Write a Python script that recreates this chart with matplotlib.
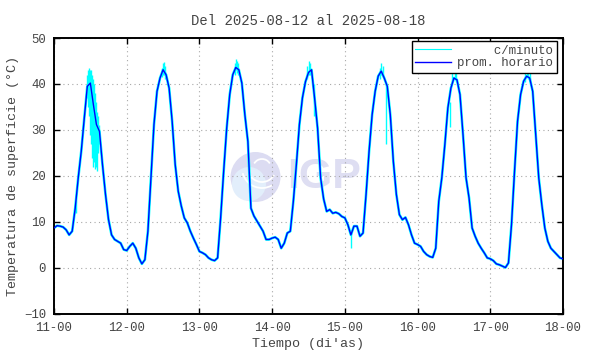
import matplotlib
matplotlib.use("Agg")
import matplotlib.pyplot as plt
from matplotlib.patches import Circle, Arc
from matplotlib.transforms import IdentityTransform
import numpy as np

# ---- data (hourly average surface temperature, °C) ----
day11 = [8.7, 9.2, 9.1, 8.9, 8.3, 7.2, 8.0, 13.0, 19.6, 25.4, 32.6, 39.5,
         40.2, 35.5, 31.2, 29.7, 22.5, 16.0, 10.5, 7.2, 6.2, 5.8, 5.4, 4.0]
day12 = [3.8, 4.7, 5.4, 4.3, 2.2, 0.9, 1.8, 8.0, 19.6, 31.2, 38.4, 41.3,
         43.1, 42.0, 39.1, 31.9, 22.5, 16.7, 13.5, 10.9, 9.8, 8.0, 6.5, 5.1]
day13 = [3.6, 3.3, 2.9, 2.2, 1.8, 1.6, 2.2, 10.9, 21.0, 30.4, 37.7, 42.0,
         43.6, 43.1, 40.2, 33.3, 27.5, 13.0, 11.3, 10.2, 9.1, 8.0, 6.2, 6.2]
day14 = [6.5, 6.7, 6.2, 4.3, 5.4, 7.6, 8.0, 14.5, 22.5, 31.2, 37.0, 40.5,
         42.5, 43.1, 37.0, 30.4, 19.6, 15.0, 12.3, 12.7, 11.9, 12.1, 11.8, 11.2]
day15 = [10.9, 9.4, 7.2, 9.1, 9.1, 6.9, 7.6, 16.0, 25.4, 33.3, 38.4, 41.7,
         42.8, 41.3, 39.5, 33.3, 23.2, 16.0, 11.6, 10.5, 11.0, 9.4, 7.2, 5.4]
day16 = [5.1, 4.7, 3.6, 2.9, 2.5, 2.3, 4.3, 14.5, 19.6, 26.8, 34.8, 39.1,
         41.3, 40.9, 37.7, 29.0, 19.6, 15.2, 8.7, 6.9, 5.4, 4.3, 3.3, 2.2]
day17 = [2.0, 1.6, 0.9, 0.7, 0.4, 0.1, 1.1, 9.4, 21.0, 31.9, 37.7, 40.6,
         41.7, 41.3, 38.4, 29.0, 19.6, 13.8, 8.7, 5.8, 4.3, 3.6, 2.9, 2.2]
day18 = [2.0]

# minute-data excursions (hour since start, low, high)
spike_t = [7.2, 11.0, 11.33, 11.67, 12.0, 12.33, 12.67, 13.0, 13.33, 13.67,
           14.0, 14.33, 14.67, 15.0,
           35.6, 36.0, 36.4, 36.8,
           59.6, 60.0, 60.4, 60.8,
           83.6, 84.0, 84.5, 85.8,
           98.0, 107.5, 108.0, 108.5, 109.6,
           130.8, 131.5, 132.2, 132.8,
           155.5, 156.0, 156.5, 157.0]
spike_lo = [12.0, 37.0, 35.0, 33.0, 29.0, 27.0, 24.0, 22.0, 23.0, 21.5,
            22.0, 21.0, 25.0, 27.0,
            41.5, 42.0, 42.0, 41.0,
            42.0, 43.0, 42.5, 42.0,
            41.0, 42.0, 42.0, 33.0,
            4.3, 41.0, 42.0, 41.5, 27.0,
            30.7, 40.5, 41.0, 40.5,
            40.5, 41.5, 41.0, 40.5]
spike_hi = [14.5, 42.0, 43.0, 43.5, 43.0, 43.0, 42.0, 41.0, 40.0, 38.0,
            36.0, 34.0, 33.0, 31.0,
            43.5, 44.5, 44.8, 44.0,
            44.5, 45.5, 45.0, 44.5,
            44.0, 45.0, 44.5, 40.0,
            8.0, 43.5, 44.5, 44.0, 40.0,
            36.0, 43.0, 43.5, 42.5,
            43.5, 44.5, 44.0, 43.0]

tick_labels = ["11-00", "12-00", "13-00", "14-00", "15-00", "16-00", "17-00", "18-00"]
title = "Del 2025-08-12 al 2025-08-18"

hourly = day11 + day12 + day13 + day14 + day15 + day16 + day17 + day18
hours = np.arange(len(hourly))

# ---- style ----
FONT = "Liberation Mono"
TXT = "#444444"
FS_TICK = 8.9
FS_LAB = 9.6
FS_TITLE = 10
plt.rcParams["font.family"] = [FONT, "DejaVu Sans"]

fig = plt.figure(figsize=(5.9, 3.54), dpi=100)
ax = fig.add_axes([54 / 590, 1 - 314 / 354, 509 / 590, 276 / 354])
ax.set_axisbelow(True)

# watermark logo (pixel coordinates)
ident = IdentityTransform()
ax.add_patch(Circle((255.5, 354 - 177), 25, transform=ident, color="#dcdcf2",
                    zorder=0.1, clip_on=False, lw=0))
ax.add_patch(Circle((249, 354 - 184), 17, transform=ident, color="#e2eefb",
                    zorder=0.15, clip_on=False, lw=0))
for r, th1, th2 in [(14, 200, 330), (20, 195, 300), (9, 30, 150)]:
    ax.add_patch(Arc((262, 354 - 168), 2 * r, 2 * r, theta1=th1, theta2=th2,
                     transform=ident, color="white", lw=1.3, zorder=0.2,
                     clip_on=False))
ax.text(287, 354 - 177, "IGP", transform=ident, fontsize=31,
        family="Liberation Sans", weight="bold", color="#dedef2",
        ha="left", va="center", zorder=0.2)

# data
ax.plot(hours, hourly, color="#00ffff", lw=1.9, zorder=2, solid_joinstyle="round")
ax.vlines(spike_t, spike_lo, spike_hi, color="#00ffff", lw=1.0, zorder=2.1)
ax.plot([], [], color="#00ffff", lw=0.8, label="     c/minuto")
ax.plot(hours, hourly, color="#0000ff", lw=1.0, zorder=3, label="prom. horario")

ax.set_xlim(0, 168)
ax.set_ylim(-10, 50)
ax.set_xticks(np.arange(0, 169, 24))
ax.set_xticklabels(tick_labels)
ax.set_yticks(np.arange(-10, 51, 10))

ax.grid(True, color="#a8a8a8", linestyle=(0, (1, 3)), lw=0.8)
for s in ax.spines.values():
    s.set_linewidth(1.4)
    s.set_color("black")
ax.tick_params(direction="in", length=4, width=1, top=True, right=True,
               labelsize=FS_TICK, labelcolor=TXT, colors="black")
ax.tick_params(axis="y", pad=5.8)
ax.tick_params(axis="x", pad=5.5)
for lab in ax.get_xticklabels() + ax.get_yticklabels():
    lab.set_color(TXT)

ax.set_title(title, fontsize=FS_TITLE, color=TXT, pad=9.5)
ax.set_xlabel("Tiempo (di'as)", fontsize=FS_LAB, color=TXT, labelpad=3)
ax.set_ylabel("Temperatura de superficie (°C)", fontsize=FS_LAB, color=TXT,
              labelpad=3.2)

leg = ax.legend(loc="upper right", bbox_to_anchor=(1 - 6 / 509, 1 - 3 / 276),
                borderaxespad=0, frameon=True, fancybox=False, framealpha=1,
                edgecolor="black", fontsize=FS_TICK, handlelength=2.9,
                handletextpad=0.5, labelspacing=0.05, borderpad=0.3)
leg.get_frame().set_linewidth(1.0)
for t in leg.get_texts():
    t.set_color(TXT)

fig.savefig("out.png", dpi=100)
